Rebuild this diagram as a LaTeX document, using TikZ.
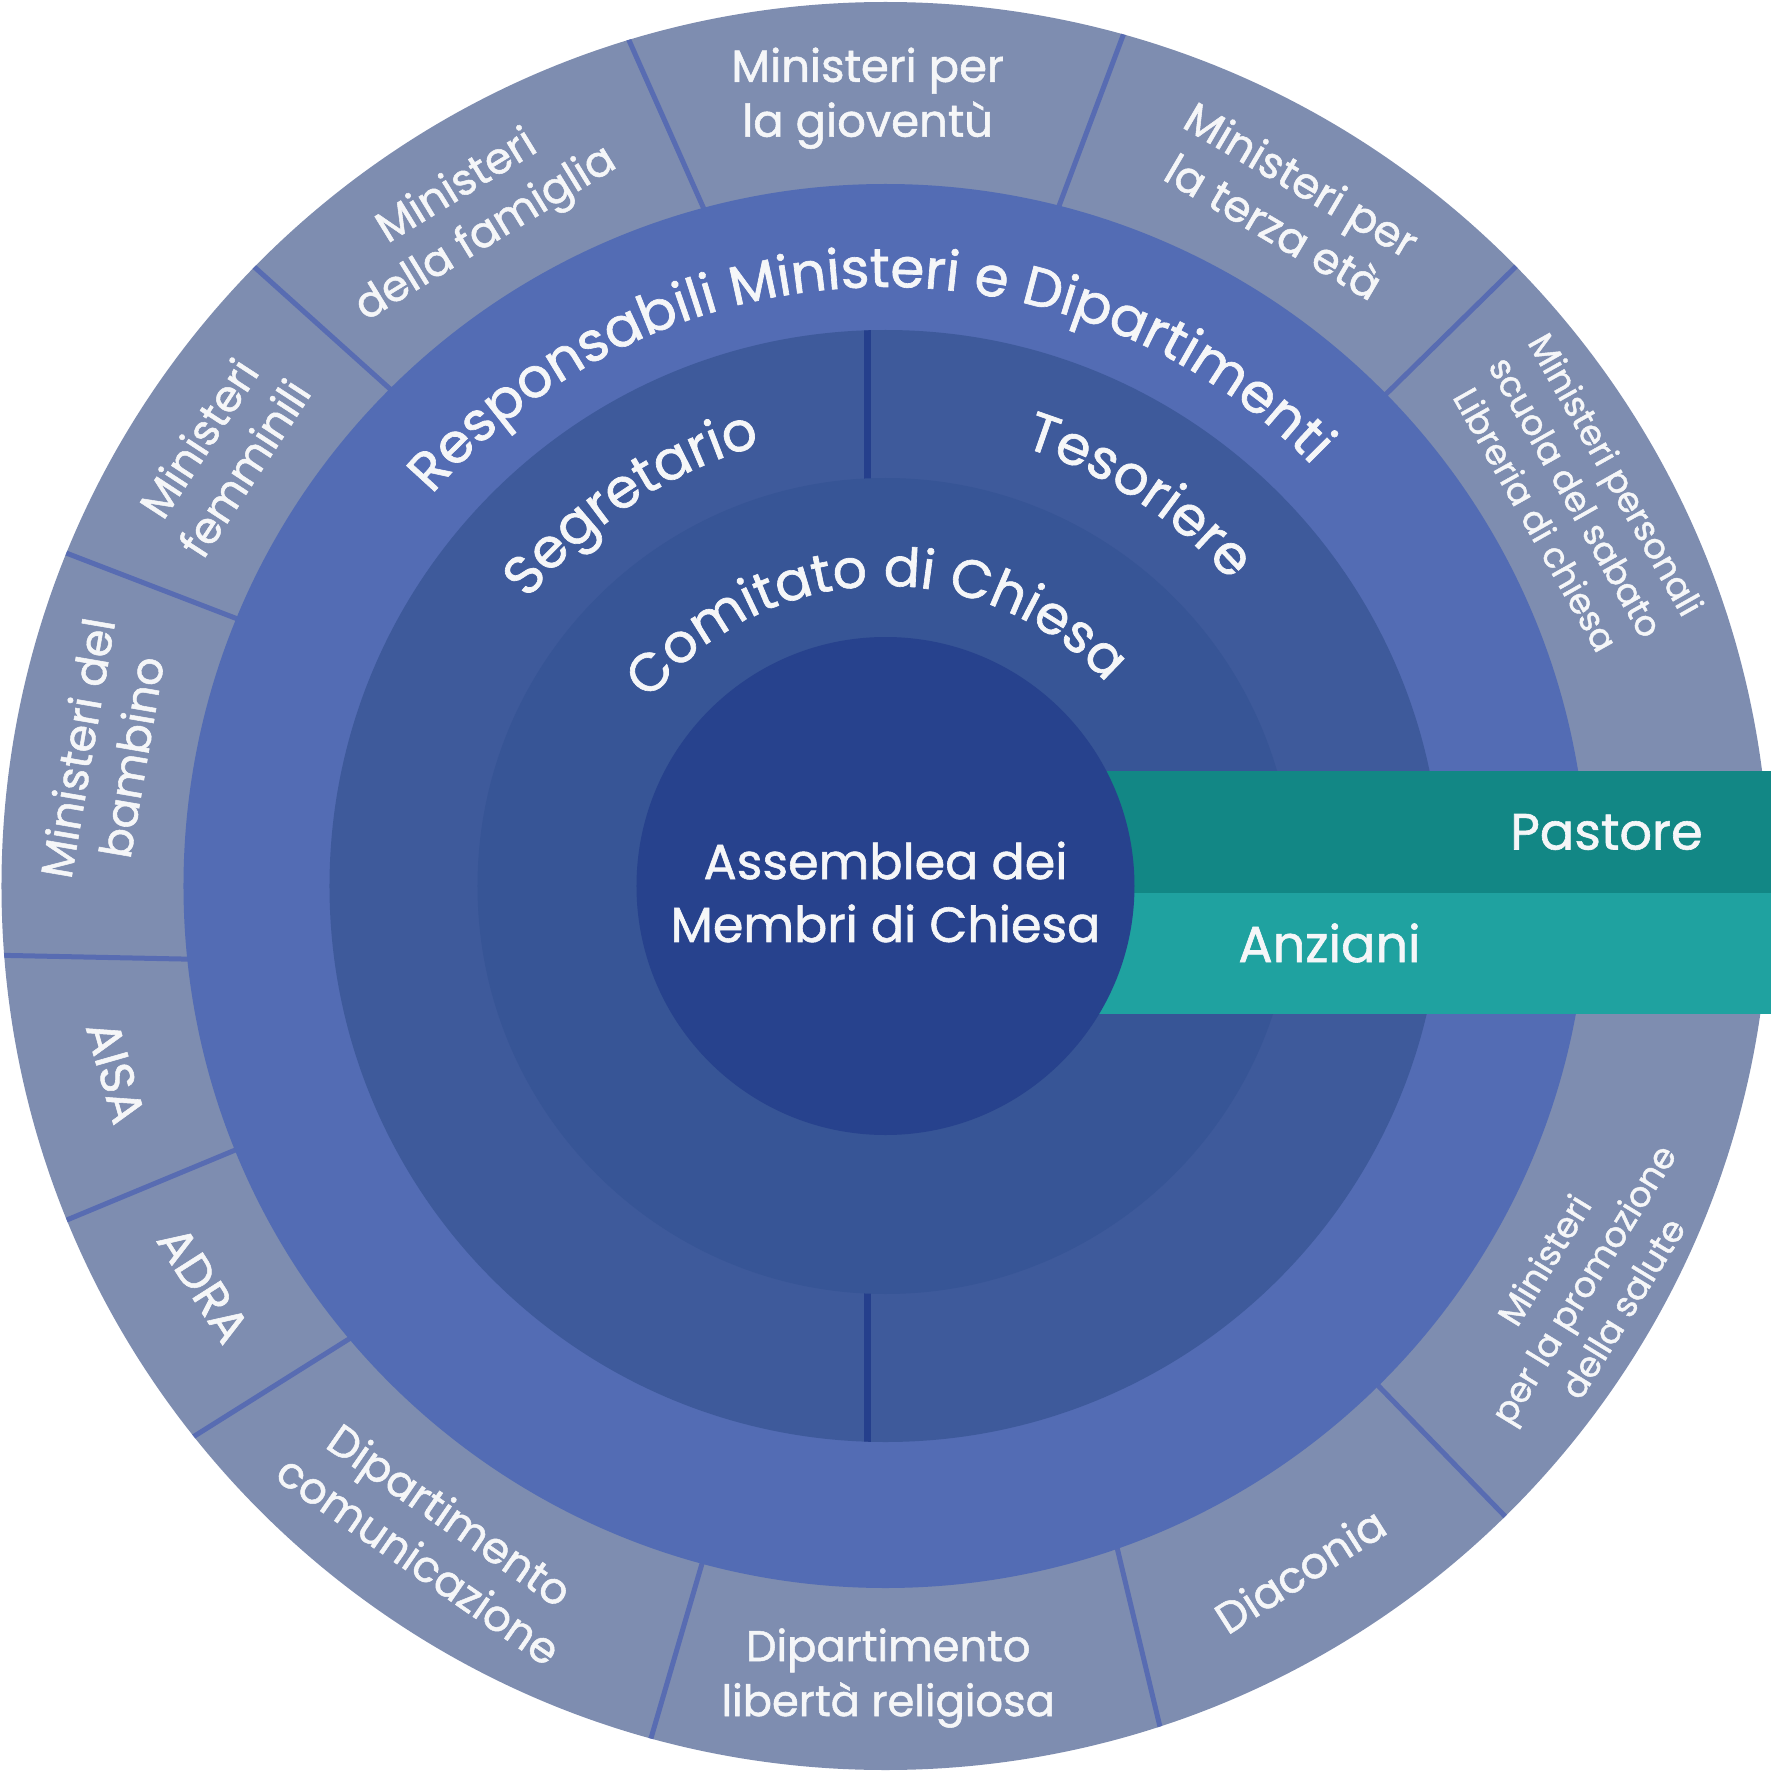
\documentclass[tikz,border=0pt]{standalone}
\usepackage{fontspec}
\setmainfont{Poppins}[RawFeature={embolden=1.2}]
\usetikzlibrary{decorations.text}
\definecolor{outerc}{RGB}{126,141,176}
\definecolor{respc}{RGB}{83,108,180}
\definecolor{segc}{RGB}{62,90,155}
\definecolor{comc}{RGB}{55,85,150}
\definecolor{innc}{RGB}{39,66,141}
\definecolor{pastc}{RGB}{18,135,133}
\definecolor{anzc}{RGB}{31,162,160}
\definecolor{divc}{RGB}{37,63,140}
\definecolor{sepc}{RGB}{88,108,178}
\definecolor{txtc}{RGB}{245,246,248}
\newcommand\bigtxt{\fontsize{15.6}{19}\selectfont}
\newcommand\comtxt{\fontsize{15.3}{19}\selectfont}
\tikzset{
  lab/.style={text=txtc, align=center, inner sep=0pt, font=\fontsize{12.3}{15.6}\selectfont},
  smalllab/.style={lab, font=\fontsize{10}{13.1}\selectfont},
  sepline/.style={draw=sepc, line width=0.05cm},
  curv/.style={decorate, decoration={text along path, text align=center, text color=txtc}},
  midtxt/.style={text=txtc, align=center, inner sep=0pt},
}
\begin{document}
\begin{tikzpicture}
\useasboundingbox (-8.855,-8.86) rectangle (8.855,8.86);
\fill[white] (-8.855,-8.86) rectangle (8.855,8.86);
% rings
\fill[outerc] (0,0) circle (8.84);
\begin{scope}
\clip (0,0) circle (8.84);
\foreach \a/\b in {105/107, 75.7/74.3, 44.5/44.5, -45.4/-45.5, -70.7/-72, -105.15/-105.4, -139.8/-141.6, -157.9/-157.8, -174/-175.6, 157.6/157.9, 134.9/135.6}
  \draw[sepline] (\a:7.0) -- (\b:9.0);
\end{scope}
\fill[respc] (0,0) circle (7.02);
\fill[segc] (0,0) circle (5.56);
\begin{scope}
\clip (0,0) circle (5.56);
\fill[divc] (-0.215,-6) rectangle (-0.145,6);
\end{scope}
\fill[comc] (0,0) circle (4.08);
% bands
\fill[pastc] (0,-0.07) rectangle (8.855,1.15);
\fill[anzc] (0,-1.28) rectangle (8.855,-0.07);
\fill[innc] (0,0) circle (2.49);
% curved texts
\path[curv, decoration={text={|\bigtxt|Responsabili Ministeri e Dipartimenti}}]
  (181.9:5.99) arc[start angle=181.9, end angle=1.9, radius=5.99];
\path[curv, decoration={text={|\bigtxt|Segretario}}]
  (213.55:4.58) arc[start angle=213.55, end angle=33.55, radius=4.58];
\path[curv, decoration={text={|\bigtxt|Tesoriere}}]
  (147:4.6) arc[start angle=147, end angle=-33, radius=4.6];
\path[curv, decoration={text={|\comtxt|Comitato di Chiesa}}]
  (182.2:3.0) arc[start angle=182.2, end angle=2.2, radius=3.0];
% centre
\node[midtxt, font=\fontsize{14}{17.9}\selectfont] (assemblea) at (0,-0.06) {Assemblea dei\\Membri di Chiesa};
\node[midtxt, font=\fontsize{14.5}{18}\selectfont] (pastore) at (7.21,0.54) {Pastore};
\node[midtxt, font=\fontsize{14.5}{18}\selectfont] (anziani) at (4.44,-0.57) {Anziani};
% outer labels
\node[lab, font=\fontsize{12.8}{15.6}\selectfont] (giov) at (91.3:7.88) {Ministeri per\\la gioventù};
\node[lab, rotate=-30.5] (terza) at (59.5:7.93) {Ministeri per\\la terza età};
\node[smalllab, rotate=-60.6] (pers) at (29.4:7.93) {Ministeri personali\\scuola del sabato\\Libreria di chiesa};
\node[lab, rotate=31.5] (fam) at (121.5:7.91) {Ministeri\\della famiglia};
\node[lab, rotate=56.9] (femm) at (146.9:7.93) {Ministeri\\femminili};
\node[lab, rotate=80.3, font=\fontsize{12.6}{15.6}\selectfont] (bamb) at (170.3:7.93) {Ministeri del\\bambino};
\node[lab, rotate=-74, font=\fontsize{13.5}{15.6}\selectfont] (aisa) at (193.6:7.92) {AISA};
\node[lab, rotate=-57.5, font=\fontsize{13.5}{15.6}\selectfont] (adra) at (210.3:7.9) {ADRA};
\node[lab, rotate=-34.7] (comun) at (235.3:7.92) {Dipartimento\\comunicazione};
\node[lab] (liberta) at (270.2:7.92) {Dipartimento\\libertà religiosa};
\node[lab, rotate=32.5] (diac) at (301.2:8.0) {Diaconia};
\node[smalllab, rotate=58.5] (salute) at (330.3:8.03) {Ministeri\\per la promozione\\della salute};
\end{tikzpicture}
\end{document}
